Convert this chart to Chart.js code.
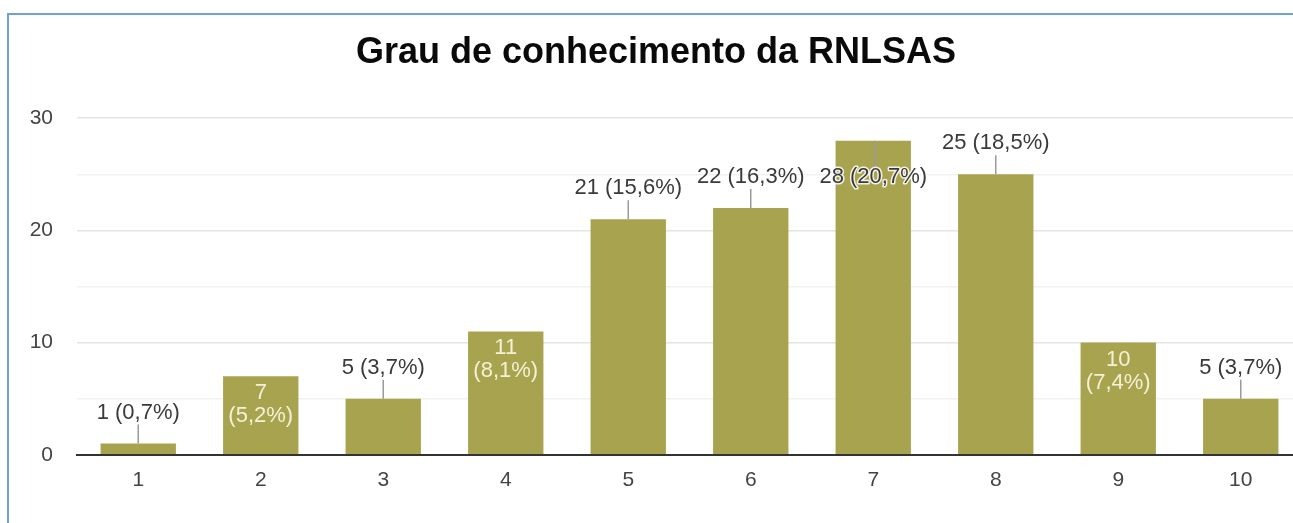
<!DOCTYPE html>
<html>
<head>
<meta charset="utf-8">
<script src="https://cdn.jsdelivr.net/npm/chart.js@4"></script>
<style>
  html, body { margin: 0; padding: 0; background: #fff; overflow: hidden; }
  #frame {
    position: absolute; left: 7px; top: 13px; width: 1400px; height: 600px;
    border-left: 2px solid #6fa0d9; border-top: 2px solid #6fa0d9;
  }
  #chart { position: absolute; left: 0; top: 0; }
</style>
</head>
<body>
<div id="frame"></div>
<canvas id="chart" width="1322" height="523"></canvas>
<script>
const titleText = 'Grau de conhecimento da RNLSAS';
const categories = ['1', '2', '3', '4', '5', '6', '7', '8', '9', '10'];
const counts = [1, 7, 5, 11, 21, 22, 28, 25, 10, 5];
const yTicks = [0, 10, 20, 30];

const total = counts.reduce((a, b) => a + b, 0);
const pct = (v) => (v / total * 100).toFixed(1).replace('.', ',');

const FONT = "'Liberation Sans', Arial, sans-serif";

// labels that Google put inside the bar, and the one that got pushed down
const insideIdx = [1, 3, 8];
const overlapIdx = 6;

const barLabels = {
  id: 'barLabels',
  afterDatasetsDraw(chart) {
    const ctx = chart.ctx;
    const meta = chart.getDatasetMeta(0);
    ctx.save();
    ctx.font = '22px ' + FONT;
    ctx.textAlign = 'center';
    ctx.textBaseline = 'middle';
    meta.data.forEach((bar, i) => {
      const v = counts[i];
      const x = bar.x;
      const top = bar.y;
      const txt = v + ' (' + pct(v) + '%)';
      if (insideIdx.includes(i)) {
        ctx.fillStyle = '#f4f1d6';
        ctx.fillText(String(v), x, top + 17);
        ctx.fillText('(' + pct(v) + '%)', x, top + 40);
        return;
      }
      ctx.strokeStyle = '#9a9a9a';
      ctx.lineWidth = 1.5;
      ctx.beginPath();
      if (i === overlapIdx) {
        ctx.moveTo(x + 2, top);
        ctx.lineTo(x + 2, top + 26);
        ctx.stroke();
        ctx.lineJoin = 'round';
        ctx.strokeStyle = 'rgba(255,255,255,0.85)';
        ctx.lineWidth = 3;
        ctx.strokeText(txt, x, top + 36);
        ctx.fillStyle = '#3a3a3a';
        ctx.fillText(txt, x, top + 36);
        return;
      }
      ctx.moveTo(x, top);
      ctx.lineTo(x, top - 19);
      ctx.stroke();
      ctx.fillStyle = '#3a3a3a';
      ctx.fillText(txt, x, top - 31);
    });
    ctx.restore();
  }
};

new Chart(document.getElementById('chart').getContext('2d'), {
  type: 'bar',
  data: {
    labels: categories,
    datasets: [{
      data: counts,
      backgroundColor: '#a8a34e',
      borderWidth: 0,
      categoryPercentage: 1,
      barPercentage: 0.615,
    }],
  },
  options: {
    responsive: false,
    animation: false,
    layout: { padding: { left: 10, right: 20, top: 0, bottom: 17 } },
    plugins: {
      legend: { display: false },
      tooltip: { enabled: false },
      title: {
        display: true,
        text: titleText,
        color: '#0a0a0a',
        font: { family: FONT, size: 36, weight: 'bold' },
        padding: { top: 31, bottom: 44 },
      },
    },
    scales: {
      x: {
        grid: { display: false, drawTicks: false },
        border: { display: true, color: '#333', width: 2 },
        ticks: { color: '#444', font: { family: FONT, size: 21 }, padding: 13 },
      },
      y: {
        min: 0,
        max: 30,
        afterFit: (s) => { s.width = 67; },
        border: { display: false },
        grid: {
          drawTicks: false,
          color: (c) => (c.tick && c.tick.value % 10 === 0 ? '#e4e4e4' : '#f1f1f1'),
          lineWidth: 1.5,
        },
        ticks: {
          stepSize: 5,
          padding: 24,
          color: '#444',
          font: { family: FONT, size: 21 },
          callback: (v) => (yTicks.includes(v) ? v : ''),
        },
      },
    },
  },
  plugins: [barLabels],
});
</script>
</body>
</html>
